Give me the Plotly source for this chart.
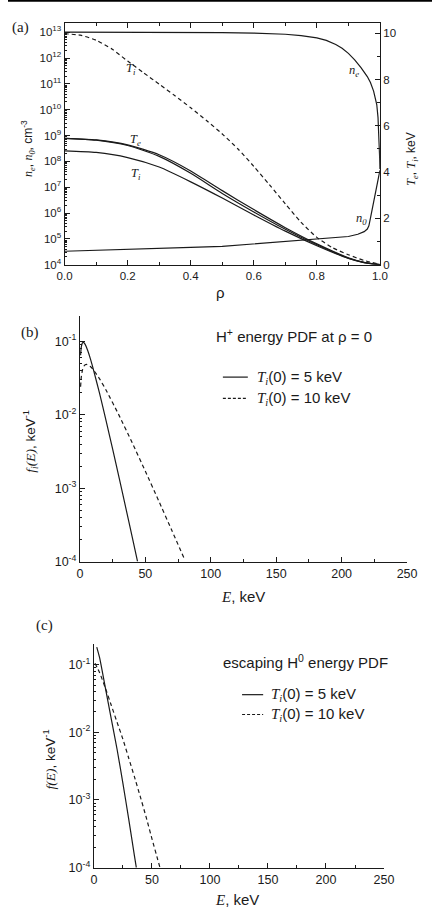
import plotly.graph_objects as go

W, H = 442, 920

# ---------------- panel (a) data ----------------
rho_ne = [0, 0.1, 0.2, 0.3, 0.4, 0.5, 0.6, 0.65, 0.7, 0.75, 0.8, 0.83, 0.86, 0.88, 0.9, 0.92, 0.94, 0.96,
          0.97, 0.98, 0.985, 0.99, 0.994, 0.997, 0.999, 1.0]
n_e = [1.0e13, 1.0e13, 9.95e12, 9.89e12, 9.77e12, 9.55e12, 9.23e12, 8.91e12, 8.32e12, 7.41e12, 6.03e12,
       4.79e12, 3.31e12, 2.40e12, 1.51e12, 8.51e11, 4.27e11, 1.91e11, 1.12e11, 5.25e10, 3.16e10, 1.58e10,
       5.0e9, 1.0e9, 1.58e8, 5.0e7]

rho_n0 = [0, 0.1, 0.2, 0.3, 0.4, 0.5, 0.6, 0.7, 0.8, 0.85, 0.9, 0.93, 0.95, 0.96, 0.965, 0.97, 0.975, 0.98, 0.99, 1.0]
n_0 = [3.3e4, 3.55e4, 3.9e4, 4.25e4, 4.7e4, 5.1e4, 6.3e4, 7.9e4, 1.0e5, 1.07e5, 1.23e5, 1.5e5, 1.9e5,
       2.4e5, 3.2e5, 6.3e5, 1.26e6, 2.8e6, 1.17e7, 4.5e7]

rho_ti10 = [0, 0.05, 0.1, 0.15, 0.2, 0.25, 0.3, 0.35, 0.4, 0.45, 0.5, 0.55, 0.6, 0.65, 0.7, 0.75, 0.8, 0.85, 0.9, 0.95, 1.0]
T_i10 = [9.98, 9.92, 9.7, 9.32, 8.8, 8.3, 7.8, 7.3, 6.78, 6.23, 5.65, 5.0, 4.25, 3.45, 2.63, 1.83, 1.18,
         0.73, 0.43, 0.18, 0.02]

rho_t = [0, 0.1, 0.2, 0.3, 0.4, 0.5, 0.6, 0.7, 0.8, 0.9, 0.95, 1.0]
T_e_a = [5.46, 5.39, 5.18, 4.75, 4.05, 3.2, 2.38, 1.6, 0.9, 0.3, 0.1, 0.0]
T_e_b = [5.46, 5.38, 5.15, 4.68, 3.95, 3.08, 2.28, 1.53, 0.86, 0.28, 0.09, 0.0]
T_i5 = [4.92, 4.85, 4.63, 4.22, 3.58, 2.88, 2.15, 1.45, 0.82, 0.27, 0.09, 0.0]

# ---------------- panel (b) data ----------------
E_b5 = [0.5, 1, 2, 3, 4, 6, 8, 10, 15, 20, 25, 30, 35, 40, 44]
f_b5 = [0.0646, 0.0826, 0.0957, 0.0959, 0.0907, 0.0744, 0.0576, 0.0432, 0.0195, 0.00827, 0.0034,
        0.00137, 0.000544, 0.000214, 0.000101]
E_b10 = [0.5, 1, 2, 3, 4, 5, 6, 8, 10, 15, 20, 30, 40, 50, 60, 70, 80]
f_b10 = [0.024, 0.0323, 0.0413, 0.0458, 0.0478, 0.0484, 0.048, 0.0453, 0.0415, 0.0308, 0.0216,
         0.00973, 0.00413, 0.0017, 0.000685, 0.000272, 0.000107]

# ---------------- panel (c) data ----------------
E_c5 = [2.5, 5, 10, 15, 20, 25, 30, 35, 36.6]
f_c5 = [0.182, 0.126, 0.0447, 0.0158, 0.00562, 0.00178, 0.000525, 0.000148, 0.0001]
E_c10 = [1, 5, 10, 15, 20, 25, 30, 35, 40, 45, 50, 55, 57]
f_c10 = [0.105, 0.0759, 0.0447, 0.0251, 0.0141, 0.00794, 0.00417, 0.00219, 0.00112, 0.000562,
         0.000269, 0.000132, 0.0001]

xticks_E = [0, 50, 100, 150, 200, 250]

# ---------------- helpers ----------------
def px(x):
    return x / W

def py(y):
    return 1 - y / H

SANS = "Liberation Sans, Arial, sans-serif"
SERIF = "Liberation Serif, Times New Roman, serif"
INK = "#1a1a1a"
LW = 1.2


def it(s):
    return f"<span style='font-family:{SERIF}'><i>{s}</i></span>"


def log_ticks(lo, hi):
    major = [10.0 ** k for k in range(lo, hi + 1)]
    minor = [m * 10.0 ** k for k in range(lo, hi) for m in range(2, 10)]
    return major, minor


def sup_labels(lo, hi):
    return [f"10<sup>{k}</sup>" for k in range(lo, hi + 1)]


fig = go.Figure()

line_solid = dict(color=INK, width=LW)
line_dash = dict(color=INK, width=LW, dash="4px,3px")
sp = dict(shape="spline", smoothing=0.6)

# panel (a)
fig.add_trace(go.Scatter(x=rho_ne, y=n_e, mode="lines", line=line_solid, xaxis="x", yaxis="y"))
fig.add_trace(go.Scatter(x=rho_n0, y=n_0, mode="lines", line=line_solid, xaxis="x", yaxis="y"))
fig.add_trace(go.Scatter(x=rho_ti10, y=T_i10, mode="lines", line=dict(line_dash, **sp), xaxis="x", yaxis="y2"))
fig.add_trace(go.Scatter(x=rho_t, y=T_e_a, mode="lines", line=dict(line_solid, **sp), xaxis="x", yaxis="y2"))
fig.add_trace(go.Scatter(x=rho_t, y=T_e_b, mode="lines", line=dict(line_solid, **sp), xaxis="x", yaxis="y2"))
fig.add_trace(go.Scatter(x=rho_t, y=T_i5, mode="lines", line=dict(line_solid, **sp), xaxis="x", yaxis="y2"))

# panel (b)
fig.add_trace(go.Scatter(x=E_b5, y=f_b5, mode="lines", line=dict(line_solid, shape="spline", smoothing=0.5),
                         xaxis="x2", yaxis="y3"))
fig.add_trace(go.Scatter(x=E_b10, y=f_b10, mode="lines", line=dict(line_dash, shape="spline", smoothing=0.5),
                         xaxis="x2", yaxis="y3"))

# panel (c)
fig.add_trace(go.Scatter(x=E_c5, y=f_c5, mode="lines", line=dict(line_solid, shape="spline", smoothing=0.5),
                         xaxis="x3", yaxis="y4"))
fig.add_trace(go.Scatter(x=E_c10, y=f_c10, mode="lines", line=dict(line_dash, shape="spline", smoothing=0.5),
                         xaxis="x3", yaxis="y4"))

tick_a = dict(family=SANS, size=11.5, color=INK)
tick_b = dict(family=SANS, size=12.5, color=INK)
axcommon = dict(showgrid=False, zeroline=False, showline=True, linecolor=INK, linewidth=1.1,
                ticks="inside", tickcolor=INK, tickwidth=1)

ma_a, mi_a = log_ticks(4, 13)
ma_b, mi_b = log_ticks(-4, -1)
minor_E = [25, 75, 125, 175, 225]

fig.update_layout(
    width=W, height=H,
    margin=dict(l=0, r=0, t=0, b=0),
    paper_bgcolor="white", plot_bgcolor="white",
    showlegend=False,
    xaxis=dict(axcommon, tickfont=tick_a, domain=[px(59), px(387.7)], anchor="y", range=[0, 1.0],
               tickvals=[0, 0.2, 0.4, 0.6, 0.8, 1.0],
               ticktext=["0.0", "0.2", "0.4", "0.6", "0.8", "1.0"], ticklen=5, mirror="ticks",
               minor=dict(tickvals=[0.1, 0.3, 0.5, 0.7, 0.9], ticks="inside", ticklen=3, tickcolor=INK)),
    yaxis=dict(axcommon, tickfont=tick_a, domain=[py(266.7), py(23.3)], anchor="x", type="log", range=[4, 13.35],
               tickvals=ma_a, ticktext=sup_labels(4, 13), ticklen=5, mirror=True,
               minor=dict(tickvals=mi_a, ticks="inside", ticklen=2.5, tickcolor=INK)),
    yaxis2=dict(axcommon, tickfont=tick_a, overlaying="y", side="right", anchor="x", range=[0, 10.44],
                tickvals=[0, 2, 4, 6, 8, 10], ticklen=5,
                minor=dict(tickvals=[1, 3, 5, 7, 9], ticks="inside", ticklen=3, tickcolor=INK)),
    xaxis2=dict(axcommon, tickfont=tick_b, domain=[px(75), px(416)], anchor="y3", range=[0, 250],
                tickvals=xticks_E, ticklen=5,
                minor=dict(tickvals=minor_E, ticks="inside", ticklen=3, tickcolor=INK)),
    yaxis3=dict(axcommon, tickfont=tick_b, domain=[py(566), py(318)], anchor="x2", type="log", range=[-4, -0.65],
                tickvals=ma_b, ticktext=sup_labels(-4, -1), ticklen=5,
                minor=dict(tickvals=mi_b, ticks="inside", ticklen=2.5, tickcolor=INK)),
    xaxis3=dict(axcommon, tickfont=tick_b, domain=[px(89.5), px(392)], anchor="y4", range=[0, 250],
                tickvals=xticks_E, ticklen=5,
                minor=dict(tickvals=minor_E, ticks="inside", ticklen=3, tickcolor=INK)),
    yaxis4=dict(axcommon, tickfont=tick_b, domain=[py(874.3), py(649.3)], anchor="x3", type="log", range=[-4, -0.70],
                tickvals=ma_b, ticktext=sup_labels(-4, -1), ticklen=5,
                minor=dict(tickvals=mi_b, ticks="inside", ticklen=2.5, tickcolor=INK)),
)

ann = []


def A(x, y, text, size=13, family=SANS, angle=0, xanchor="center", yanchor="middle"):
    ann.append(dict(x=px(x), y=py(y), xref="paper", yref="paper", text=text, showarrow=False,
                    font=dict(family=family, size=size, color=INK), textangle=angle,
                    xanchor=xanchor, yanchor=yanchor))


def Tsub(letter, sub):
    return it(letter) + f"<sub>{it(sub)}</sub>"


# panel labels
A(13, 28, "(a)", size=15, family=SERIF)
A(23, 335, "(b)", size=15, family=SERIF)
A(38, 630, "(c)", size=15, family=SERIF)

# panel (a) curve labels
A(128, 70, Tsub("T", "i"), size=12.5)
A(133, 141, Tsub("T", "e"), size=12.5)
A(133, 175, Tsub("T", "i"), size=12.5)
A(361, 72, Tsub("n", "e"), size=12.5)
A(368, 221, Tsub("n", "0"), size=12.5)

# panel (a) axis titles
A(21, 150, Tsub("n", "e") + ", " + Tsub("n", "0") + ", cm<sup>-3</sup>", size=12, angle=-90)
A(421, 160, Tsub("T", "e") + ", " + Tsub("T", "i") + ", keV", size=12, angle=-90)
A(221, 295, "ρ", size=15)

# panel (b)
A(298, 338, "H<sup>+</sup> energy PDF at ρ = 0", size=15)
A(257, 380, Tsub("T", "i") + "(0) = 5 keV", size=15, xanchor="left")
A(257, 401.5, Tsub("T", "i") + "(0) = 10 keV", size=15, xanchor="left")
A(23, 445, Tsub("f", "i") + it("(E)") + ", keV<sup>-1</sup>", size=13.5, angle=-90)
A(245, 601, it("E") + ", keV", size=15)

# panel (c)
A(310, 667, "escaping H<sup>0</sup> energy PDF", size=15)
A(272, 700, Tsub("T", "i") + "(0) = 5 keV", size=15, xanchor="left")
A(272, 720, Tsub("T", "i") + "(0) = 10 keV", size=15, xanchor="left")
A(43, 765, it("f") + it("(E)") + ", keV<sup>-1</sup>", size=13.5, angle=-90)
A(239, 906, it("E") + ", keV", size=15)

fig.update_layout(annotations=ann)

shapes = [
    dict(type="line", xref="paper", yref="paper", x0=0, x1=1, y0=py(0.8), y1=py(0.8), line=dict(color="black", width=2)),
    dict(type="line", xref="paper", yref="paper", x0=px(224), x1=px(250), y0=py(380), y1=py(380), line=dict(color=INK, width=LW)),
    dict(type="line", xref="paper", yref="paper", x0=px(224), x1=px(250), y0=py(401.5), y1=py(401.5),
         line=dict(color=INK, width=LW, dash="3px,2px")),
    dict(type="line", xref="paper", yref="paper", x0=px(244), x1=px(266), y0=py(700), y1=py(700), line=dict(color=INK, width=LW)),
    dict(type="line", xref="paper", yref="paper", x0=px(244), x1=px(266), y0=py(720), y1=py(720),
         line=dict(color=INK, width=LW, dash="3px,2px")),
]
fig.update_layout(shapes=shapes)

fig.write_html("out.html")
